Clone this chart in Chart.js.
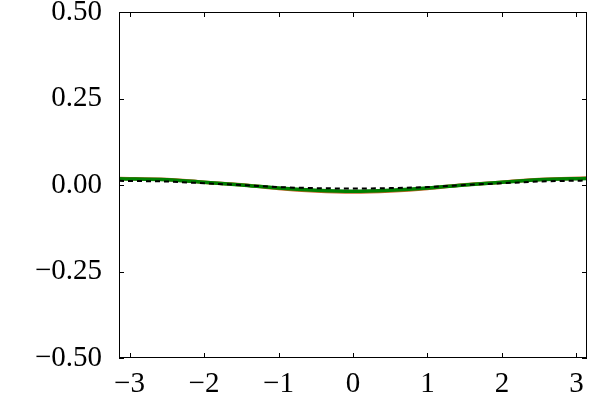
<!DOCTYPE html>
<html>
<head>
<meta charset="utf-8">
<script src="https://cdn.jsdelivr.net/npm/chart.js@4"></script>
<style>
  html, body { margin: 0; padding: 0; background: #fff; }
  #wrap { width: 600px; height: 400px; }
</style>
</head>
<body>
<div id="wrap"><canvas id="chart" width="600" height="400"></canvas></div>
<script>
const xValues = [-3.1416, -2.5, -2, -1.5, -1, -0.5, 0, 0.5, 1, 1.5, 2, 2.5, 3.1416];
const orangeValues = [0.019, 0.016, 0.008, 0.001, -0.010, -0.017, -0.020, -0.017, -0.010, 0.001, 0.008, 0.016, 0.020];
const greenValues = [0.018, 0.015, 0.008, 0.000, -0.009, -0.015, -0.018, -0.015, -0.009, 0.000, 0.008, 0.015, 0.019];
const dashedValues = [0.012, 0.010, 0.005, 0.000, -0.006, -0.009, -0.010, -0.009, -0.006, 0.000, 0.005, 0.010, 0.013];

const xTicks = [-3, -2, -1, 0, 1, 2, 3];
const yTicks = [-0.5, -0.25, 0, 0.25, 0.5];

const pts = vals => xValues.map((x, i) => ({ x: x, y: vals[i] }));
const fmtMinus = s => s.replace('-', '\u2212');

// draws the frame and inward ticks on all four sides
const frameTicks = {
    id: 'frameTicks',
    afterDraw(chart) {
        const ctx = chart.ctx;
        const a = chart.chartArea;
        const xs = chart.scales.x;
        const ys = chart.scales.y;
        const len = 5;
        ctx.save();
        ctx.strokeStyle = '#000';
        ctx.lineWidth = 1;
        ctx.strokeRect(a.left + 0.5, a.top + 0.5, a.right - a.left - 1, a.bottom - a.top - 1);
        ctx.beginPath();
        xTicks.forEach(v => {
            const px = Math.round(xs.getPixelForValue(v)) + 0.5;
            ctx.moveTo(px, a.bottom); ctx.lineTo(px, a.bottom - len);
            ctx.moveTo(px, a.top); ctx.lineTo(px, a.top + len);
        });
        yTicks.forEach(v => {
            const py = Math.round(ys.getPixelForValue(v)) + 0.5;
            ctx.moveTo(a.left, py); ctx.lineTo(a.left + len, py);
            ctx.moveTo(a.right, py); ctx.lineTo(a.right - len, py);
        });
        ctx.stroke();
        ctx.restore();
    }
};

const tickFont = { family: '"Liberation Serif", "DejaVu Serif", serif', size: 29 };

new Chart(document.getElementById('chart'), {
    type: 'line',
    data: {
        datasets: [
            {
                data: pts(dashedValues),
                borderColor: '#000000',
                borderWidth: 2,
                borderDash: [5, 4],
                pointRadius: 0,
                cubicInterpolationMode: 'monotone',
                order: 0
            },
            {
                data: pts(greenValues),
                borderColor: '#008000',
                borderWidth: 3.5,
                pointRadius: 0,
                cubicInterpolationMode: 'monotone',
                order: 1
            },
            {
                data: pts(orangeValues),
                borderColor: '#c8642a',
                borderWidth: 3.5,
                pointRadius: 0,
                cubicInterpolationMode: 'monotone',
                order: 2
            }
        ]
    },
    options: {
        responsive: false,
        animation: false,
        layout: { padding: { top: 12, right: 13, left: 0, bottom: 0 } },
        plugins: { legend: { display: false }, tooltip: { enabled: false } },
        scales: {
            x: {
                type: 'linear',
                min: -Math.PI,
                max: Math.PI,
                afterBuildTicks: s => { s.ticks = xTicks.map(v => ({ value: v })); },
                afterFit: s => { s.height = 42; s.paddingLeft = 0; s.paddingRight = 0; },
                grid: { display: false },
                border: { display: false },
                ticks: {
                    color: '#000',
                    font: tickFont,
                    padding: 1,
                    maxRotation: 0,
                    callback: v => fmtMinus(String(v))
                }
            },
            y: {
                type: 'linear',
                min: -0.5,
                max: 0.5,
                afterBuildTicks: s => { s.ticks = yTicks.map(v => ({ value: v })); },
                afterFit: s => { s.width = 119; s.paddingTop = 0; s.paddingBottom = 0; },
                grid: { display: false },
                border: { display: false },
                ticks: {
                    color: '#000',
                    font: tickFont,
                    padding: 9,
                    callback: v => fmtMinus(v.toFixed(2))
                }
            }
        }
    },
    plugins: [frameTicks]
});
</script>
</body>
</html>
